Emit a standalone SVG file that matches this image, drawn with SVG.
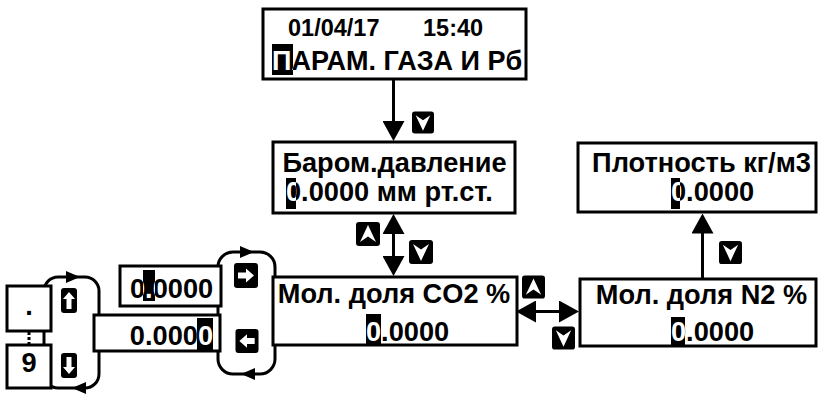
<svg xmlns="http://www.w3.org/2000/svg" xmlns:xlink="http://www.w3.org/1999/xlink" width="818" height="395" viewBox="0 0 818 395">
<style>
.box{fill:#fff;stroke:#000;stroke-width:3}
.t{font-family:"Liberation Sans",Arial,sans-serif;font-weight:bold;font-size:27.2px;fill:#000}
.w{fill:#fff}
.hl{fill:#000}
.ln{fill:none;stroke:#000;stroke-width:3}
.key{fill:#000}
.kw{fill:#fff}
</style>
<defs>
<marker id="ah" markerUnits="userSpaceOnUse" markerWidth="20" markerHeight="22" viewBox="0 0 20 22" refX="17" refY="11" orient="auto-start-reverse"><path d="M0,0L20,11L0,22z"/></marker>
<symbol id="kDown" viewBox="0 0 24 24"><rect class="key" x="0" y="0" width="24" height="24" rx="3"/><polygon class="kw" points="4,4 12,9.5 20,4 12,21"/></symbol>
<symbol id="kUp" viewBox="0 0 24 24"><rect class="key" x="0" y="0" width="24" height="24" rx="3"/><polygon class="kw" points="4,20 12,14.5 20,20 12,3"/></symbol>
<symbol id="kRight" viewBox="0 0 24 25"><rect class="key" x="0" y="0" width="24" height="25" rx="3"/><polygon class="kw" points="4,9.5 12,9.5 12,5.5 20,12.5 12,19.5 12,15.5 4,15.5"/></symbol>
<symbol id="kLeft" viewBox="0 0 24 25"><rect class="key" x="0" y="0" width="24" height="25" rx="3"/><polygon class="kw" points="20,9.5 12,9.5 12,5.5 4,12.5 12,19.5 12,15.5 20,15.5"/></symbol>
<symbol id="kArrUp" viewBox="0 0 16 25"><rect class="key" x="0" y="0" width="16" height="25" rx="3"/><polygon class="kw" points="8,4 14,11 10.5,11 10.5,21 5.5,21 5.5,11 2,11"/></symbol>
<symbol id="kArrDown" viewBox="0 0 16 25"><rect class="key" x="0" y="0" width="16" height="25" rx="3"/><polygon class="kw" points="8,21 14,14 10.5,14 10.5,4 5.5,4 5.5,14 2,14"/></symbol>
<clipPath id="c1"><rect x="272" y="44" width="21" height="31"/></clipPath>
<clipPath id="c2"><rect x="286" y="178" width="10" height="31"/></clipPath>
<clipPath id="c3"><rect x="366" y="314" width="15" height="30"/></clipPath>
<clipPath id="c4"><rect x="671" y="178" width="9" height="31"/></clipPath>
<clipPath id="c5"><rect x="671" y="317" width="14" height="28"/></clipPath>
<clipPath id="c6"><rect x="143" y="270" width="12" height="31"/></clipPath>
<clipPath id="c7"><rect x="197" y="318" width="16" height="32"/></clipPath>
</defs>

<g id="connectors">
<path class="ln" d="M393.5,80 V138" marker-end="url(#ah)"/>
<path class="ln" d="M393.5,217 V273" marker-start="url(#ah)" marker-end="url(#ah)"/>
<path class="ln" d="M519,311.5 H576" marker-start="url(#ah)" marker-end="url(#ah)"/>
<path class="ln" d="M702.5,278 V216.5" marker-end="url(#ah)"/>
<path class="ln" d="M58,277 H85 A14,14 0 0 1 99,291 V374 A14,14 0 0 1 85,388 H58 A14,14 0 0 1 44,374 V291 A14,14 0 0 1 58,277 Z"/>
<polygon points="66,271 80,277 66,283"/>
<polygon points="86,382 72,388 86,394"/>
<path class="ln" d="M233,252 H260 A15,15 0 0 1 275,267 V359 A15,15 0 0 1 260,374 H233 A15,15 0 0 1 218,359 V267 A15,15 0 0 1 233,252 Z"/>
<polygon points="240,246 254,252 240,258"/>
<polygon points="255,368 241,374 255,380"/>
<use xlink:href="#kDown" x="412" y="111" width="22" height="23"/>
<use xlink:href="#kUp" x="356" y="222" width="24" height="24"/>
<use xlink:href="#kDown" x="409" y="240" width="24" height="24"/>
<use xlink:href="#kUp" x="522" y="275" width="23" height="24"/>
<use xlink:href="#kDown" x="552" y="326" width="23" height="24"/>
<use xlink:href="#kDown" x="719" y="240" width="23" height="25"/>
<use xlink:href="#kRight" x="234" y="263" width="24" height="25"/>
<use xlink:href="#kLeft" x="235" y="329" width="24" height="24"/>
<use xlink:href="#kArrUp" x="61" y="288" width="16" height="25"/>
<use xlink:href="#kArrDown" x="61" y="353" width="16" height="25"/>
</g>

<g id="node-main">
<rect class="box" x="263" y="9" width="263" height="70"/>
<text class="t" x="288" y="36" style="font-size:23.5px">01/04/17</text>
<text class="t" x="423" y="36" style="font-size:23.5px">15:40</text>
<text class="t" x="272" y="70" style="font-size:27px">ПАРАМ. ГАЗА И Рб</text>
<rect class="hl" x="272" y="44" width="21" height="31"/>
<text class="t w" x="272" y="70" style="font-size:27px" clip-path="url(#c1)">ПАРАМ. ГАЗА И Рб</text>
</g>

<g id="node-baro">
<rect class="box" x="273" y="142" width="242" height="71"/>
<text class="t" x="394.5" y="172" text-anchor="middle">Баром.давление</text>
<text class="t" x="286" y="201">0.0000 мм рт.ст.</text>
<rect class="hl" x="286" y="178" width="10" height="31"/>
<text class="t w" x="286" y="201" clip-path="url(#c2)">0.0000 мм рт.ст.</text>
</g>

<g id="node-co2">
<rect class="box" x="273" y="277" width="244" height="68"/>
<text class="t" x="394" y="303" text-anchor="middle">Мол. доля CO2 %</text>
<text class="t" x="366" y="340.5">0.0000</text>
<rect class="hl" x="366" y="314" width="15" height="30"/>
<text class="t w" x="366" y="340.5" clip-path="url(#c3)">0.0000</text>
</g>

<g id="node-density">
<rect class="box" x="578" y="143" width="238" height="69"/>
<text class="t" x="701.5" y="171.5" text-anchor="middle">Плотность кг/м3</text>
<text class="t" x="671" y="200.5">0.0000</text>
<rect class="hl" x="671" y="178" width="9" height="31"/>
<text class="t w" x="671" y="200.5" clip-path="url(#c4)">0.0000</text>
</g>

<g id="node-n2">
<rect class="box" x="580" y="279" width="236" height="67"/>
<text class="t" x="701.5" y="303.5" text-anchor="middle">Мол. доля N2 %</text>
<text class="t" x="671" y="340.5">0.0000</text>
<rect class="hl" x="671" y="317" width="14" height="28"/>
<text class="t w" x="671" y="340.5" clip-path="url(#c5)">0.0000</text>
</g>

<g id="node-edit-pos">
<rect class="box" x="120" y="266" width="101" height="40"/>
<text class="t" x="130" y="298">0.0000</text>
<rect class="hl" x="143" y="270" width="12" height="31"/>
<text class="t w" x="130" y="298" clip-path="url(#c6)">0.0000</text>
</g>

<g id="node-edit-digit">
<rect class="box" x="94" y="315" width="126" height="36"/>
<text class="t" x="213" y="345" text-anchor="end">0.0000</text>
<rect class="hl" x="197" y="318" width="16" height="32"/>
<text class="t w" x="213" y="345" text-anchor="end" clip-path="url(#c7)">0.0000</text>
</g>

<g id="node-dot">
<rect class="box" x="7" y="286" width="44" height="45"/>
<text class="t" x="29" y="315" text-anchor="middle">.</text>
</g>

<g id="node-nine">
<rect class="box" x="7" y="345" width="44" height="43"/>
<text class="t" x="29" y="372" text-anchor="middle">9</text>
</g>

<path d="M29,332 V345" fill="none" stroke="#000" stroke-width="3" stroke-dasharray="3 2"/>
</svg>
